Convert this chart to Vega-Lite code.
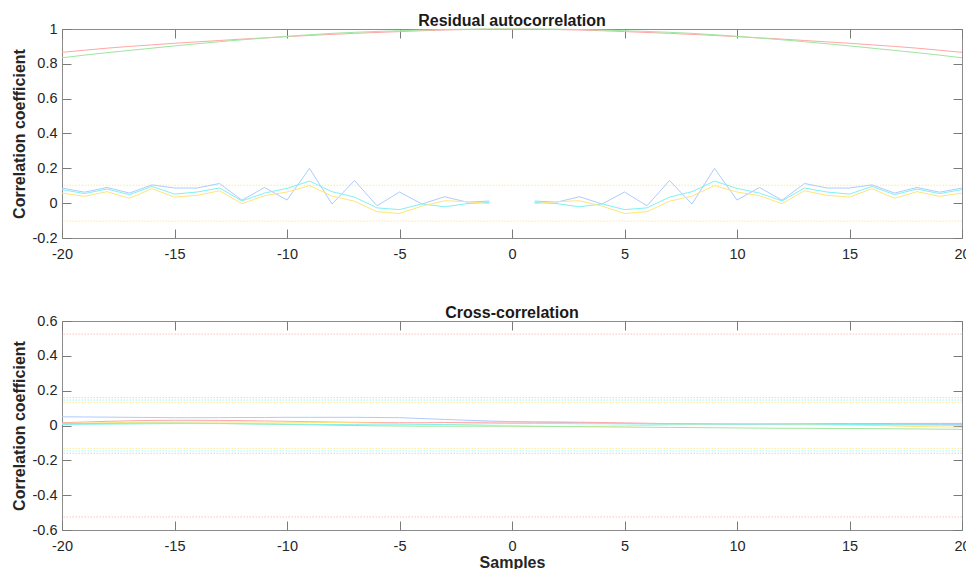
{
  "$schema": "https://vega.github.io/schema/vega-lite/v6.json",
  "background": "white",
  "autosize": {"type": "pad"},
  "padding": {"left": 10, "top": 12, "right": 0, "bottom": 0},
  "spacing": 43,
  "config": {
    "view": {"stroke": "#8c8c8c", "strokeWidth": 1},
    "axis": {"grid": false, "domain": false, "tickColor": "#7a7a7a", "tickSize": -9, "tickWidth": 1,
      "labelColor": "#262626", "labelFont": "Liberation Sans", "labelFontSize": 14.5, "labelFlush": false, "labelOverlap": false,
      "titleFont": "Liberation Sans", "titleFontSize": 16, "titleFontWeight": "bold", "titleColor": "#262626", "titlePadding": 5},
    "axisX": {"labelPadding": 18},
    "axisY": {"labelPadding": 14},
    "title": {"font": "Liberation Sans", "fontSize": 16, "fontWeight": "bold", "color": "#1a1a1a", "offset": -8, "baseline": "alphabetic", "frame": "group"}
  },
  "datasets": {
    "autoBounds": [{"s": "y", "v": 0.103}, {"s": "y", "v": -0.103}],
    "crossBounds": [{"s": "r", "v": 0.525}, {"s": "r", "v": -0.525}, {"s": "b", "v": 0.16}, {"s": "b", "v": -0.16}, {"s": "c", "v": 0.146}, {"s": "c", "v": -0.146}, {"s": "y", "v": 0.132}, {"s": "y", "v": -0.132}],
    "autoRG": [
      {"k": -20, "s": "r", "v": 0.866}, {"k": -19, "s": "r", "v": 0.878}, {"k": -18, "s": "r", "v": 0.89}, {"k": -17, "s": "r", "v": 0.9}, {"k": -16, "s": "r", "v": 0.909}, {"k": -15, "s": "r", "v": 0.918}, {"k": -14, "s": "r", "v": 0.926}, {"k": -13, "s": "r", "v": 0.934}, {"k": -12, "s": "r", "v": 0.942}, {"k": -11, "s": "r", "v": 0.949}, {"k": -10, "s": "r", "v": 0.956}, {"k": -9, "s": "r", "v": 0.963}, {"k": -8, "s": "r", "v": 0.969}, {"k": -7, "s": "r", "v": 0.975}, {"k": -6, "s": "r", "v": 0.98}, {"k": -5, "s": "r", "v": 0.985}, {"k": -4, "s": "r", "v": 0.99}, {"k": -3, "s": "r", "v": 0.994}, {"k": -2, "s": "r", "v": 0.997}, {"k": -1, "s": "r", "v": 0.999}, {"k": 0, "s": "r", "v": 1},
      {"k": 1, "s": "r", "v": 0.999}, {"k": 2, "s": "r", "v": 0.997}, {"k": 3, "s": "r", "v": 0.994}, {"k": 4, "s": "r", "v": 0.99}, {"k": 5, "s": "r", "v": 0.985}, {"k": 6, "s": "r", "v": 0.98}, {"k": 7, "s": "r", "v": 0.975}, {"k": 8, "s": "r", "v": 0.969}, {"k": 9, "s": "r", "v": 0.963}, {"k": 10, "s": "r", "v": 0.956}, {"k": 11, "s": "r", "v": 0.949}, {"k": 12, "s": "r", "v": 0.942}, {"k": 13, "s": "r", "v": 0.934}, {"k": 14, "s": "r", "v": 0.926}, {"k": 15, "s": "r", "v": 0.918}, {"k": 16, "s": "r", "v": 0.909}, {"k": 17, "s": "r", "v": 0.9}, {"k": 18, "s": "r", "v": 0.89}, {"k": 19, "s": "r", "v": 0.878}, {"k": 20, "s": "r", "v": 0.866},
      {"k": -20, "s": "g", "v": 0.835}, {"k": -19, "s": "g", "v": 0.85}, {"k": -18, "s": "g", "v": 0.864}, {"k": -17, "s": "g", "v": 0.877}, {"k": -16, "s": "g", "v": 0.89}, {"k": -15, "s": "g", "v": 0.903}, {"k": -14, "s": "g", "v": 0.915}, {"k": -13, "s": "g", "v": 0.927}, {"k": -12, "s": "g", "v": 0.938}, {"k": -11, "s": "g", "v": 0.948}, {"k": -10, "s": "g", "v": 0.958}, {"k": -9, "s": "g", "v": 0.967}, {"k": -8, "s": "g", "v": 0.975}, {"k": -7, "s": "g", "v": 0.981}, {"k": -6, "s": "g", "v": 0.986}, {"k": -5, "s": "g", "v": 0.99}, {"k": -4, "s": "g", "v": 0.994}, {"k": -3, "s": "g", "v": 0.997}, {"k": -2, "s": "g", "v": 0.999}, {"k": -1, "s": "g", "v": 1}, {"k": 0, "s": "g", "v": 1},
      {"k": 1, "s": "g", "v": 1}, {"k": 2, "s": "g", "v": 0.999}, {"k": 3, "s": "g", "v": 0.997}, {"k": 4, "s": "g", "v": 0.994}, {"k": 5, "s": "g", "v": 0.99}, {"k": 6, "s": "g", "v": 0.986}, {"k": 7, "s": "g", "v": 0.981}, {"k": 8, "s": "g", "v": 0.975}, {"k": 9, "s": "g", "v": 0.967}, {"k": 10, "s": "g", "v": 0.958}, {"k": 11, "s": "g", "v": 0.948}, {"k": 12, "s": "g", "v": 0.938}, {"k": 13, "s": "g", "v": 0.927}, {"k": 14, "s": "g", "v": 0.915}, {"k": 15, "s": "g", "v": 0.903}, {"k": 16, "s": "g", "v": 0.89}, {"k": 17, "s": "g", "v": 0.877}, {"k": 18, "s": "g", "v": 0.864}, {"k": 19, "s": "g", "v": 0.85}, {"k": 20, "s": "g", "v": 0.835}
    ],
    "autoBCY": [
      {"k": -20, "s": "b", "g": "n", "v": 0.087}, {"k": -19, "s": "b", "g": "n", "v": 0.063}, {"k": -18, "s": "b", "g": "n", "v": 0.09}, {"k": -17, "s": "b", "g": "n", "v": 0.058}, {"k": -16, "s": "b", "g": "n", "v": 0.105}, {"k": -15, "s": "b", "g": "n", "v": 0.087}, {"k": -14, "s": "b", "g": "n", "v": 0.087}, {"k": -13, "s": "b", "g": "n", "v": 0.113}, {"k": -12, "s": "b", "g": "n", "v": 0.017}, {"k": -11, "s": "b", "g": "n", "v": 0.09}, {"k": -10, "s": "b", "g": "n", "v": 0.018}, {"k": -9, "s": "b", "g": "n", "v": 0.2}, {"k": -8, "s": "b", "g": "n", "v": -0.005}, {"k": -7, "s": "b", "g": "n", "v": 0.13}, {"k": -6, "s": "b", "g": "n", "v": -0.015}, {"k": -5, "s": "b", "g": "n", "v": 0.064}, {"k": -4, "s": "b", "g": "n", "v": -0.005}, {"k": -3, "s": "b", "g": "n", "v": 0.037}, {"k": -2, "s": "b", "g": "n", "v": 0.006}, {"k": -1, "s": "b", "g": "n", "v": 0.012},
      {"k": 1, "s": "b", "g": "p", "v": 0.012}, {"k": 2, "s": "b", "g": "p", "v": 0.006}, {"k": 3, "s": "b", "g": "p", "v": 0.037}, {"k": 4, "s": "b", "g": "p", "v": -0.005}, {"k": 5, "s": "b", "g": "p", "v": 0.064}, {"k": 6, "s": "b", "g": "p", "v": -0.015}, {"k": 7, "s": "b", "g": "p", "v": 0.13}, {"k": 8, "s": "b", "g": "p", "v": -0.005}, {"k": 9, "s": "b", "g": "p", "v": 0.2}, {"k": 10, "s": "b", "g": "p", "v": 0.018}, {"k": 11, "s": "b", "g": "p", "v": 0.09}, {"k": 12, "s": "b", "g": "p", "v": 0.017}, {"k": 13, "s": "b", "g": "p", "v": 0.113}, {"k": 14, "s": "b", "g": "p", "v": 0.087}, {"k": 15, "s": "b", "g": "p", "v": 0.087}, {"k": 16, "s": "b", "g": "p", "v": 0.105}, {"k": 17, "s": "b", "g": "p", "v": 0.058}, {"k": 18, "s": "b", "g": "p", "v": 0.09}, {"k": 19, "s": "b", "g": "p", "v": 0.063}, {"k": 20, "s": "b", "g": "p", "v": 0.087},
      {"k": -20, "s": "c", "g": "n", "v": 0.078}, {"k": -19, "s": "c", "g": "n", "v": 0.055}, {"k": -18, "s": "c", "g": "n", "v": 0.081}, {"k": -17, "s": "c", "g": "n", "v": 0.049}, {"k": -16, "s": "c", "g": "n", "v": 0.096}, {"k": -15, "s": "c", "g": "n", "v": 0.052}, {"k": -14, "s": "c", "g": "n", "v": 0.064}, {"k": -13, "s": "c", "g": "n", "v": 0.087}, {"k": -12, "s": "c", "g": "n", "v": 0.013}, {"k": -11, "s": "c", "g": "n", "v": 0.058}, {"k": -10, "s": "c", "g": "n", "v": 0.085}, {"k": -9, "s": "c", "g": "n", "v": 0.127}, {"k": -8, "s": "c", "g": "n", "v": 0.066}, {"k": -7, "s": "c", "g": "n", "v": 0.035}, {"k": -6, "s": "c", "g": "n", "v": -0.027}, {"k": -5, "s": "c", "g": "n", "v": -0.037}, {"k": -4, "s": "c", "g": "n", "v": -0.004}, {"k": -3, "s": "c", "g": "n", "v": -0.021}, {"k": -2, "s": "c", "g": "n", "v": -0.003}, {"k": -1, "s": "c", "g": "n", "v": 0.005},
      {"k": 1, "s": "c", "g": "p", "v": 0.005}, {"k": 2, "s": "c", "g": "p", "v": -0.003}, {"k": 3, "s": "c", "g": "p", "v": -0.021}, {"k": 4, "s": "c", "g": "p", "v": -0.004}, {"k": 5, "s": "c", "g": "p", "v": -0.037}, {"k": 6, "s": "c", "g": "p", "v": -0.027}, {"k": 7, "s": "c", "g": "p", "v": 0.035}, {"k": 8, "s": "c", "g": "p", "v": 0.066}, {"k": 9, "s": "c", "g": "p", "v": 0.127}, {"k": 10, "s": "c", "g": "p", "v": 0.085}, {"k": 11, "s": "c", "g": "p", "v": 0.058}, {"k": 12, "s": "c", "g": "p", "v": 0.013}, {"k": 13, "s": "c", "g": "p", "v": 0.087}, {"k": 14, "s": "c", "g": "p", "v": 0.064}, {"k": 15, "s": "c", "g": "p", "v": 0.052}, {"k": 16, "s": "c", "g": "p", "v": 0.096}, {"k": 17, "s": "c", "g": "p", "v": 0.049}, {"k": 18, "s": "c", "g": "p", "v": 0.081}, {"k": 19, "s": "c", "g": "p", "v": 0.055}, {"k": 20, "s": "c", "g": "p", "v": 0.078},
      {"k": -20, "s": "y", "g": "n", "v": 0.058}, {"k": -19, "s": "y", "g": "n", "v": 0.039}, {"k": -18, "s": "y", "g": "n", "v": 0.066}, {"k": -17, "s": "y", "g": "n", "v": 0.028}, {"k": -16, "s": "y", "g": "n", "v": 0.083}, {"k": -15, "s": "y", "g": "n", "v": 0.035}, {"k": -14, "s": "y", "g": "n", "v": 0.045}, {"k": -13, "s": "y", "g": "n", "v": 0.071}, {"k": -12, "s": "y", "g": "n", "v": -0.003}, {"k": -11, "s": "y", "g": "n", "v": 0.043}, {"k": -10, "s": "y", "g": "n", "v": 0.064}, {"k": -9, "s": "y", "g": "n", "v": 0.101}, {"k": -8, "s": "y", "g": "n", "v": 0.041}, {"k": -7, "s": "y", "g": "n", "v": 0.011}, {"k": -6, "s": "y", "g": "n", "v": -0.049}, {"k": -5, "s": "y", "g": "n", "v": -0.059}, {"k": -4, "s": "y", "g": "n", "v": -0.017}, {"k": -3, "s": "y", "g": "n", "v": 0.014}, {"k": -2, "s": "y", "g": "n", "v": 0.009}, {"k": -1, "s": "y", "g": "n", "v": -0.003},
      {"k": 1, "s": "y", "g": "p", "v": -0.003}, {"k": 2, "s": "y", "g": "p", "v": 0.009}, {"k": 3, "s": "y", "g": "p", "v": 0.014}, {"k": 4, "s": "y", "g": "p", "v": -0.017}, {"k": 5, "s": "y", "g": "p", "v": -0.059}, {"k": 6, "s": "y", "g": "p", "v": -0.049}, {"k": 7, "s": "y", "g": "p", "v": 0.011}, {"k": 8, "s": "y", "g": "p", "v": 0.041}, {"k": 9, "s": "y", "g": "p", "v": 0.101}, {"k": 10, "s": "y", "g": "p", "v": 0.064}, {"k": 11, "s": "y", "g": "p", "v": 0.043}, {"k": 12, "s": "y", "g": "p", "v": -0.003}, {"k": 13, "s": "y", "g": "p", "v": 0.071}, {"k": 14, "s": "y", "g": "p", "v": 0.045}, {"k": 15, "s": "y", "g": "p", "v": 0.035}, {"k": 16, "s": "y", "g": "p", "v": 0.083}, {"k": 17, "s": "y", "g": "p", "v": 0.028}, {"k": 18, "s": "y", "g": "p", "v": 0.066}, {"k": 19, "s": "y", "g": "p", "v": 0.039}, {"k": 20, "s": "y", "g": "p", "v": 0.058}
    ],
    "cross": [
      {"k": -20, "s": "b", "v": 0.05}, {"k": -19, "s": "b", "v": 0.049}, {"k": -18, "s": "b", "v": 0.048}, {"k": -17, "s": "b", "v": 0.047}, {"k": -16, "s": "b", "v": 0.046}, {"k": -15, "s": "b", "v": 0.045}, {"k": -14, "s": "b", "v": 0.045}, {"k": -13, "s": "b", "v": 0.045}, {"k": -12, "s": "b", "v": 0.046}, {"k": -11, "s": "b", "v": 0.046}, {"k": -10, "s": "b", "v": 0.047}, {"k": -9, "s": "b", "v": 0.047}, {"k": -8, "s": "b", "v": 0.047}, {"k": -7, "s": "b", "v": 0.047}, {"k": -6, "s": "b", "v": 0.046}, {"k": -5, "s": "b", "v": 0.045}, {"k": -4, "s": "b", "v": 0.04}, {"k": -3, "s": "b", "v": 0.035}, {"k": -2, "s": "b", "v": 0.03}, {"k": -1, "s": "b", "v": 0.026}, {"k": 0, "s": "b", "v": 0.022}, {"k": 1, "s": "b", "v": 0.02}, {"k": 2, "s": "b", "v": 0.018}, {"k": 3, "s": "b", "v": 0.016}, {"k": 4, "s": "b", "v": 0.014}, {"k": 5, "s": "b", "v": 0.012}, {"k": 6, "s": "b", "v": 0.01}, {"k": 7, "s": "b", "v": 0.009}, {"k": 8, "s": "b", "v": 0.008}, {"k": 9, "s": "b", "v": 0.007}, {"k": 10, "s": "b", "v": 0.006}, {"k": 11, "s": "b", "v": 0.006}, {"k": 12, "s": "b", "v": 0.005}, {"k": 13, "s": "b", "v": 0.005}, {"k": 14, "s": "b", "v": 0.005}, {"k": 15, "s": "b", "v": 0.005}, {"k": 16, "s": "b", "v": 0.005}, {"k": 17, "s": "b", "v": 0.005}, {"k": 18, "s": "b", "v": 0.006}, {"k": 19, "s": "b", "v": 0.006}, {"k": 20, "s": "b", "v": 0.006},
      {"k": -20, "s": "r", "v": 0.016}, {"k": -19, "s": "r", "v": 0.02}, {"k": -18, "s": "r", "v": 0.024}, {"k": -17, "s": "r", "v": 0.027}, {"k": -16, "s": "r", "v": 0.029}, {"k": -15, "s": "r", "v": 0.03}, {"k": -14, "s": "r", "v": 0.03}, {"k": -13, "s": "r", "v": 0.029}, {"k": -12, "s": "r", "v": 0.028}, {"k": -11, "s": "r", "v": 0.026}, {"k": -10, "s": "r", "v": 0.024}, {"k": -9, "s": "r", "v": 0.022}, {"k": -8, "s": "r", "v": 0.02}, {"k": -7, "s": "r", "v": 0.018}, {"k": -6, "s": "r", "v": 0.017}, {"k": -5, "s": "r", "v": 0.016}, {"k": -4, "s": "r", "v": 0.016}, {"k": -3, "s": "r", "v": 0.017}, {"k": -2, "s": "r", "v": 0.018}, {"k": -1, "s": "r", "v": 0.019}, {"k": 0, "s": "r", "v": 0.02}, {"k": 1, "s": "r", "v": 0.02}, {"k": 2, "s": "r", "v": 0.02}, {"k": 3, "s": "r", "v": 0.019}, {"k": 4, "s": "r", "v": 0.017}, {"k": 5, "s": "r", "v": 0.015}, {"k": 6, "s": "r", "v": 0.013}, {"k": 7, "s": "r", "v": 0.011}, {"k": 8, "s": "r", "v": 0.01}, {"k": 9, "s": "r", "v": 0.01}, {"k": 10, "s": "r", "v": 0.01}, {"k": 11, "s": "r", "v": 0.01}, {"k": 12, "s": "r", "v": 0.01}, {"k": 13, "s": "r", "v": 0.01}, {"k": 14, "s": "r", "v": 0.011}, {"k": 15, "s": "r", "v": 0.011}, {"k": 16, "s": "r", "v": 0.011}, {"k": 17, "s": "r", "v": 0.012}, {"k": 18, "s": "r", "v": 0.012}, {"k": 19, "s": "r", "v": 0.012}, {"k": 20, "s": "r", "v": 0.012},
      {"k": -20, "s": "y", "v": 0.012}, {"k": -19, "s": "y", "v": 0.014}, {"k": -18, "s": "y", "v": 0.016}, {"k": -17, "s": "y", "v": 0.018}, {"k": -16, "s": "y", "v": 0.019}, {"k": -15, "s": "y", "v": 0.02}, {"k": -14, "s": "y", "v": 0.02}, {"k": -13, "s": "y", "v": 0.02}, {"k": -12, "s": "y", "v": 0.02}, {"k": -11, "s": "y", "v": 0.02}, {"k": -10, "s": "y", "v": 0.019}, {"k": -9, "s": "y", "v": 0.018}, {"k": -8, "s": "y", "v": 0.017}, {"k": -7, "s": "y", "v": 0.015}, {"k": -6, "s": "y", "v": 0.013}, {"k": -5, "s": "y", "v": 0.011}, {"k": -4, "s": "y", "v": 0.009}, {"k": -3, "s": "y", "v": 0.006}, {"k": -2, "s": "y", "v": 0.003}, {"k": -1, "s": "y", "v": 0.0}, {"k": 0, "s": "y", "v": -0.002}, {"k": 1, "s": "y", "v": -0.004}, {"k": 2, "s": "y", "v": -0.005}, {"k": 3, "s": "y", "v": -0.005}, {"k": 4, "s": "y", "v": -0.004}, {"k": 5, "s": "y", "v": -0.002}, {"k": 6, "s": "y", "v": 0.0}, {"k": 7, "s": "y", "v": 0.003}, {"k": 8, "s": "y", "v": 0.006}, {"k": 9, "s": "y", "v": 0.008}, {"k": 10, "s": "y", "v": 0.009}, {"k": 11, "s": "y", "v": 0.009}, {"k": 12, "s": "y", "v": 0.008}, {"k": 13, "s": "y", "v": 0.006}, {"k": 14, "s": "y", "v": 0.004}, {"k": 15, "s": "y", "v": 0.002}, {"k": 16, "s": "y", "v": 0.0}, {"k": 17, "s": "y", "v": -0.003}, {"k": 18, "s": "y", "v": -0.006}, {"k": 19, "s": "y", "v": -0.008}, {"k": 20, "s": "y", "v": -0.01},
      {"k": -20, "s": "g", "v": 0.01}, {"k": -19, "s": "g", "v": 0.011}, {"k": -18, "s": "g", "v": 0.012}, {"k": -17, "s": "g", "v": 0.013}, {"k": -16, "s": "g", "v": 0.014}, {"k": -15, "s": "g", "v": 0.014}, {"k": -14, "s": "g", "v": 0.013}, {"k": -13, "s": "g", "v": 0.012}, {"k": -12, "s": "g", "v": 0.01}, {"k": -11, "s": "g", "v": 0.008}, {"k": -10, "s": "g", "v": 0.006}, {"k": -9, "s": "g", "v": 0.004}, {"k": -8, "s": "g", "v": 0.002}, {"k": -7, "s": "g", "v": 0.0}, {"k": -6, "s": "g", "v": -0.002}, {"k": -5, "s": "g", "v": -0.003}, {"k": -4, "s": "g", "v": -0.004}, {"k": -3, "s": "g", "v": -0.004}, {"k": -2, "s": "g", "v": -0.004}, {"k": -1, "s": "g", "v": -0.004}, {"k": 0, "s": "g", "v": -0.004}, {"k": 1, "s": "g", "v": -0.005}, {"k": 2, "s": "g", "v": -0.006}, {"k": 3, "s": "g", "v": -0.007}, {"k": 4, "s": "g", "v": -0.008}, {"k": 5, "s": "g", "v": -0.009}, {"k": 6, "s": "g", "v": -0.01}, {"k": 7, "s": "g", "v": -0.011}, {"k": 8, "s": "g", "v": -0.012}, {"k": 9, "s": "g", "v": -0.013}, {"k": 10, "s": "g", "v": -0.014}, {"k": 11, "s": "g", "v": -0.015}, {"k": 12, "s": "g", "v": -0.016}, {"k": 13, "s": "g", "v": -0.016}, {"k": 14, "s": "g", "v": -0.017}, {"k": 15, "s": "g", "v": -0.017}, {"k": 16, "s": "g", "v": -0.018}, {"k": 17, "s": "g", "v": -0.019}, {"k": 18, "s": "g", "v": -0.02}, {"k": 19, "s": "g", "v": -0.021}, {"k": 20, "s": "g", "v": -0.022},
      {"k": -20, "s": "c", "v": 0.006}, {"k": -19, "s": "c", "v": 0.007}, {"k": -18, "s": "c", "v": 0.008}, {"k": -17, "s": "c", "v": 0.009}, {"k": -16, "s": "c", "v": 0.01}, {"k": -15, "s": "c", "v": 0.011}, {"k": -14, "s": "c", "v": 0.011}, {"k": -13, "s": "c", "v": 0.011}, {"k": -12, "s": "c", "v": 0.01}, {"k": -11, "s": "c", "v": 0.009}, {"k": -10, "s": "c", "v": 0.008}, {"k": -9, "s": "c", "v": 0.007}, {"k": -8, "s": "c", "v": 0.006}, {"k": -7, "s": "c", "v": 0.005}, {"k": -6, "s": "c", "v": 0.004}, {"k": -5, "s": "c", "v": 0.004}, {"k": -4, "s": "c", "v": 0.005}, {"k": -3, "s": "c", "v": 0.006}, {"k": -2, "s": "c", "v": 0.008}, {"k": -1, "s": "c", "v": 0.01}, {"k": 0, "s": "c", "v": 0.011}, {"k": 1, "s": "c", "v": 0.011}, {"k": 2, "s": "c", "v": 0.011}, {"k": 3, "s": "c", "v": 0.01}, {"k": 4, "s": "c", "v": 0.01}, {"k": 5, "s": "c", "v": 0.009}, {"k": 6, "s": "c", "v": 0.009}, {"k": 7, "s": "c", "v": 0.008}, {"k": 8, "s": "c", "v": 0.008}, {"k": 9, "s": "c", "v": 0.008}, {"k": 10, "s": "c", "v": 0.008}, {"k": 11, "s": "c", "v": 0.008}, {"k": 12, "s": "c", "v": 0.008}, {"k": 13, "s": "c", "v": 0.008}, {"k": 14, "s": "c", "v": 0.007}, {"k": 15, "s": "c", "v": 0.006}, {"k": 16, "s": "c", "v": 0.005}, {"k": 17, "s": "c", "v": 0.004}, {"k": 18, "s": "c", "v": 0.003}, {"k": 19, "s": "c", "v": 0.002}, {"k": 20, "s": "c", "v": 0.001}
    ]
  },
  "vconcat": [
    {
      "width": 900, "height": 209,
      "title": {"text": "Residual autocorrelation"},
      "resolve": {"axis": {"x": "independent", "y": "independent"}},
      "layer": [
        {
          "data": {"name": "autoBounds"},
          "mark": {"type": "rule", "strokeWidth": 1, "strokeDash": [1.5, 1.5], "opacity": 0.8},
          "encoding": {
            "y": {"field": "v", "type": "quantitative", "scale": {"domain": [-0.2, 1], "nice": false, "zero": false},
              "axis": {"orient": "right", "labels": false, "title": null, "values": [-0.2, 0, 0.2, 0.4, 0.6, 0.8, 1]}},
            "color": {"field": "s", "type": "nominal", "legend": null,
              "scale": {"domain": ["r", "g", "b", "c", "y"], "range": ["#ffa6a6", "#9fe69f", "#aecbff", "#7ff2f2", "#ffe47a"]}}
          }
        },
        {
          "data": {"name": "autoRG"},
          "mark": {"type": "line", "strokeWidth": 1},
          "encoding": {
            "x": {"field": "k", "type": "quantitative", "scale": {"domain": [-20, 20], "nice": false, "zero": false},
              "axis": {"orient": "bottom", "title": null, "values": [-20, -15, -10, -5, 0, 5, 10, 15, 20], "labelExpr": "replace(format(datum.value, '~g'), '\u2212', '-')"}},
            "y": {"field": "v", "type": "quantitative",
              "axis": {"orient": "left", "title": "Correlation coefficient", "values": [-0.2, 0, 0.2, 0.4, 0.6, 0.8, 1], "labelExpr": "replace(format(datum.value, '~g'), '\u2212', '-')"}},
            "color": {"field": "s", "type": "nominal", "legend": null}
          }
        },
        {
          "data": {"name": "autoBCY"},
          "mark": {"type": "line", "strokeWidth": 1},
          "encoding": {
            "x": {"field": "k", "type": "quantitative",
              "axis": {"orient": "top", "labels": false, "title": null, "values": [-20, -15, -10, -5, 0, 5, 10, 15, 20]}},
            "y": {"field": "v", "type": "quantitative", "axis": null},
            "color": {"field": "s", "type": "nominal", "legend": null},
            "detail": {"field": "g", "type": "nominal"}
          }
        }
      ]
    },
    {
      "width": 900, "height": 209,
      "title": {"text": "Cross-correlation"},
      "resolve": {"axis": {"x": "independent", "y": "independent"}},
      "layer": [
        {
          "data": {"name": "crossBounds"},
          "mark": {"type": "rule", "strokeWidth": 1, "strokeDash": [1.5, 1.5], "opacity": 0.7},
          "encoding": {
            "y": {"field": "v", "type": "quantitative", "scale": {"domain": [-0.6, 0.6], "nice": false, "zero": false},
              "axis": {"orient": "right", "labels": false, "title": null, "values": [-0.6, -0.4, -0.2, 0, 0.2, 0.4, 0.6]}},
            "color": {"field": "s", "type": "nominal", "legend": null,
              "scale": {"domain": ["r", "g", "b", "c", "y"], "range": ["#ffa6a6", "#9fe69f", "#aecbff", "#7ff2f2", "#ffe47a"]}}
          }
        },
        {
          "data": {"name": "cross"},
          "mark": {"type": "line", "strokeWidth": 1},
          "encoding": {
            "x": {"field": "k", "type": "quantitative", "scale": {"domain": [-20, 20], "nice": false, "zero": false},
              "axis": {"orient": "bottom", "title": "Samples", "titlePadding": 2, "values": [-20, -15, -10, -5, 0, 5, 10, 15, 20], "labelExpr": "replace(format(datum.value, '~g'), '\u2212', '-')"}},
            "y": {"field": "v", "type": "quantitative",
              "axis": {"orient": "left", "title": "Correlation coefficient", "values": [-0.6, -0.4, -0.2, 0, 0.2, 0.4, 0.6], "labelExpr": "replace(format(datum.value, '~g'), '\u2212', '-')"}},
            "color": {"field": "s", "type": "nominal", "legend": null}
          }
        },
        {
          "data": {"name": "crossBounds"},
          "mark": {"type": "rule", "opacity": 0},
          "encoding": {
            "x": {"datum": 0, "type": "quantitative",
              "axis": {"orient": "top", "labels": false, "title": null, "values": [-20, -15, -10, -5, 0, 5, 10, 15, 20]}}
          }
        }
      ]
    }
  ]
}
